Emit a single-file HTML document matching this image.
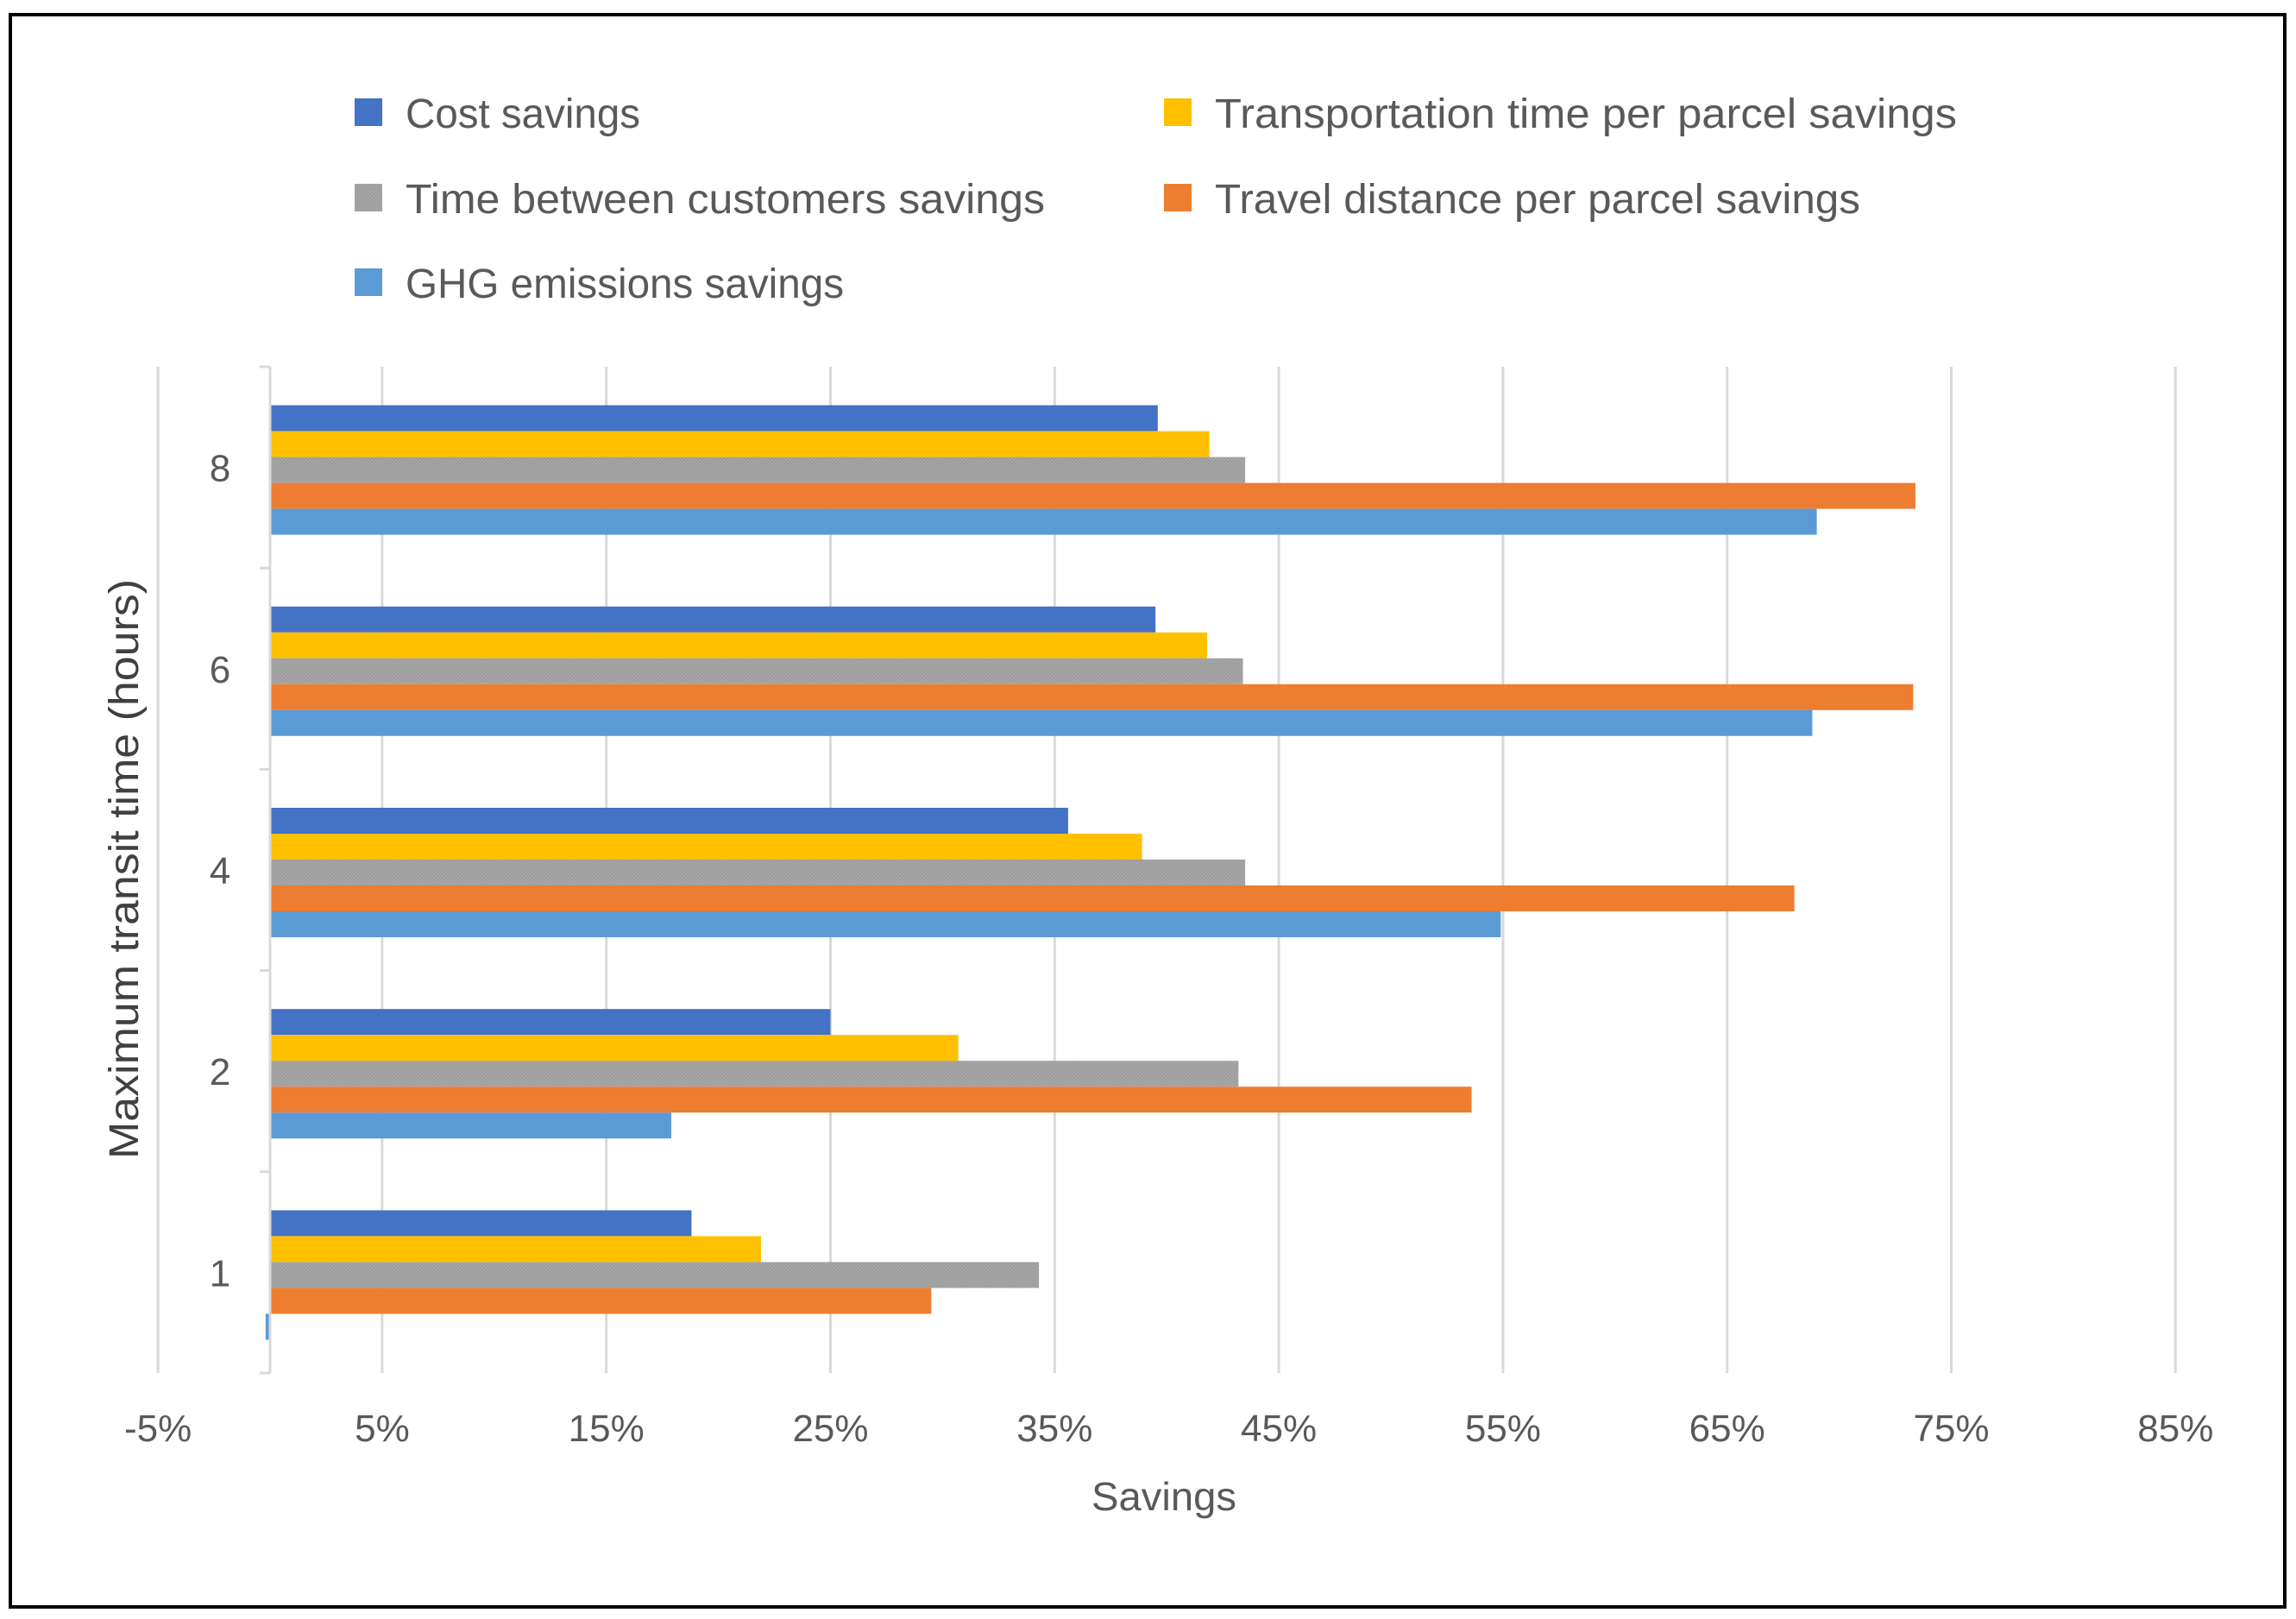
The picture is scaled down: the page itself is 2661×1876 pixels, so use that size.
<!DOCTYPE html>
<html><head><meta charset="utf-8"><style>
html,body{margin:0;padding:0;background:#fff;}
svg{display:block;font-family:"Liberation Sans",sans-serif;}
</style></head><body>
<svg id="chart" width="2661" height="1876" viewBox="0 0 2661 1876" xmlns="http://www.w3.org/2000/svg">
<defs>
<pattern id="grayPat" width="4" height="4" patternUnits="userSpaceOnUse">
<rect width="4" height="4" fill="#a8a8a8"/><rect width="2" height="2" fill="#9c9c9c"/><rect x="2" y="2" width="2" height="2" fill="#9c9c9c"/>
</pattern>
</defs>
<rect x="12" y="17" width="2636" height="1845" fill="#fff" stroke="#000" stroke-width="4"/>
<g id="legend"></g>
<g id="grid"></g>
<g id="bars"></g>
<g id="axes"></g>
<text x="1349" y="1750" font-size="46" fill="#595959" text-anchor="middle" textLength="168" lengthAdjust="spacingAndGlyphs">Savings</text>
<text transform="translate(160,1007) rotate(-90)" font-size="48" fill="#404040" text-anchor="middle" textLength="672" lengthAdjust="spacingAndGlyphs">Maximum transit time (hours)</text>
</svg>
<script>
const categories = ["1","2","4","6","8"];
const seriesNames = ["Cost savings","Transportation time per parcel savings","Time between customers savings","Travel distance per parcel savings","GHG emissions savings"];
const costSavings = [18.8, 25.0, 35.6, 39.5, 39.6];
const transportTimeSavings = [21.9, 30.7, 38.9, 41.8, 41.9];
const timeBetweenSavings = [34.3, 43.2, 43.5, 43.4, 43.5];
const travelDistanceSavings = [29.5, 53.6, 68.0, 73.3, 73.4];
const ghgSavings = [-0.2, 17.9, 54.9, 68.8, 69.0];
const xTicks = [-5, 5, 15, 25, 35, 45, 55, 65, 75, 85];
const xTickLabels = ["-5%","5%","15%","25%","35%","45%","55%","65%","75%","85%"];

const NS = "http://www.w3.org/2000/svg";
const colors = ["#4472c4","#ffc000","url(#grayPat)","#ed7d31","#5b9bd5"];
const series = [costSavings, transportTimeSavings, timeBetweenSavings, travelDistanceSavings, ghgSavings];
const plotTop = 425, plotBottom = 1591;
const xScale = v => 313 + v * 25.98;
const band = (plotBottom - plotTop) / categories.length;
const catTop = i => plotBottom - (i + 1) * band;
const barH = 30;
function mk(tag, attrs, parent){const e=document.createElementNS(NS,tag);for(const k in attrs)e.setAttribute(k,attrs[k]);parent.appendChild(e);return e;}

const grid = document.getElementById('grid');
xTicks.forEach((t, i) => {
  const l = mk('line', {x1:xScale(t), x2:xScale(t), y1:plotTop, y2:plotBottom, stroke:'#d9d9d9', 'stroke-width':3}, grid);
  
  
  const tx = mk('text', {x:xScale(t), y:1670, 'font-size':44, fill:'#595959', 'text-anchor':'middle'}, grid);
  
  
  tx.textContent = xTickLabels[i];
});

const bars = document.getElementById('bars');
categories.forEach((c, i) => {
  const groupTop = catTop(i) + (band - 5 * barH) / 2 + 3;
  series.forEach((s, j) => {
    const v = s[i];
    const x0 = xScale(0), x1 = xScale(v);
    const r = mk('rect', {x:Math.min(x0,x1), y:groupTop + j*barH, width:Math.max(Math.abs(x1-x0),3), height:barH, fill:colors[j]}, bars);
    
    
  });
  const lab = mk('text', {x:255, y:catTop(i) + band/2 + 16, 'font-size':44, fill:'#595959', 'text-anchor':'middle'}, bars);
  
  
  lab.textContent = c;
});

const axes = document.getElementById('axes');
const ax = mk('line', {x1:xScale(0), x2:xScale(0), y1:plotTop, y2:plotBottom, stroke:'#d9d9d9', 'stroke-width':3}, axes);


for (let i = 0; i <= categories.length; i++) {
  const y = plotBottom - i * band;
  const tk = mk('line', {x1:xScale(0)-12, x2:xScale(0), y1:y, y2:y, stroke:'#d9d9d9', 'stroke-width':3}, axes);
  
  
}

const legend = document.getElementById('legend');
const legPos = [[411,148,742],[1349,148,2268],[411,247,1211],[1349,247,2156],[411,345,978]];
const legOrder = [0,1,2,3,4];
legOrder.forEach((j, k) => {
  const [x, y, xe] = legPos[k];
  const m = mk('rect', {x:x, y:y-34, width:32, height:32, fill:colors[j]}, legend);
  
  
  const t = mk('text', {x:x+59, y:y, 'font-size':48, fill:'#595959', textLength:xe-(x+59), lengthAdjust:'spacingAndGlyphs'}, legend);
  
  
  t.textContent = seriesNames[j];
});
</script>
</body></html>
